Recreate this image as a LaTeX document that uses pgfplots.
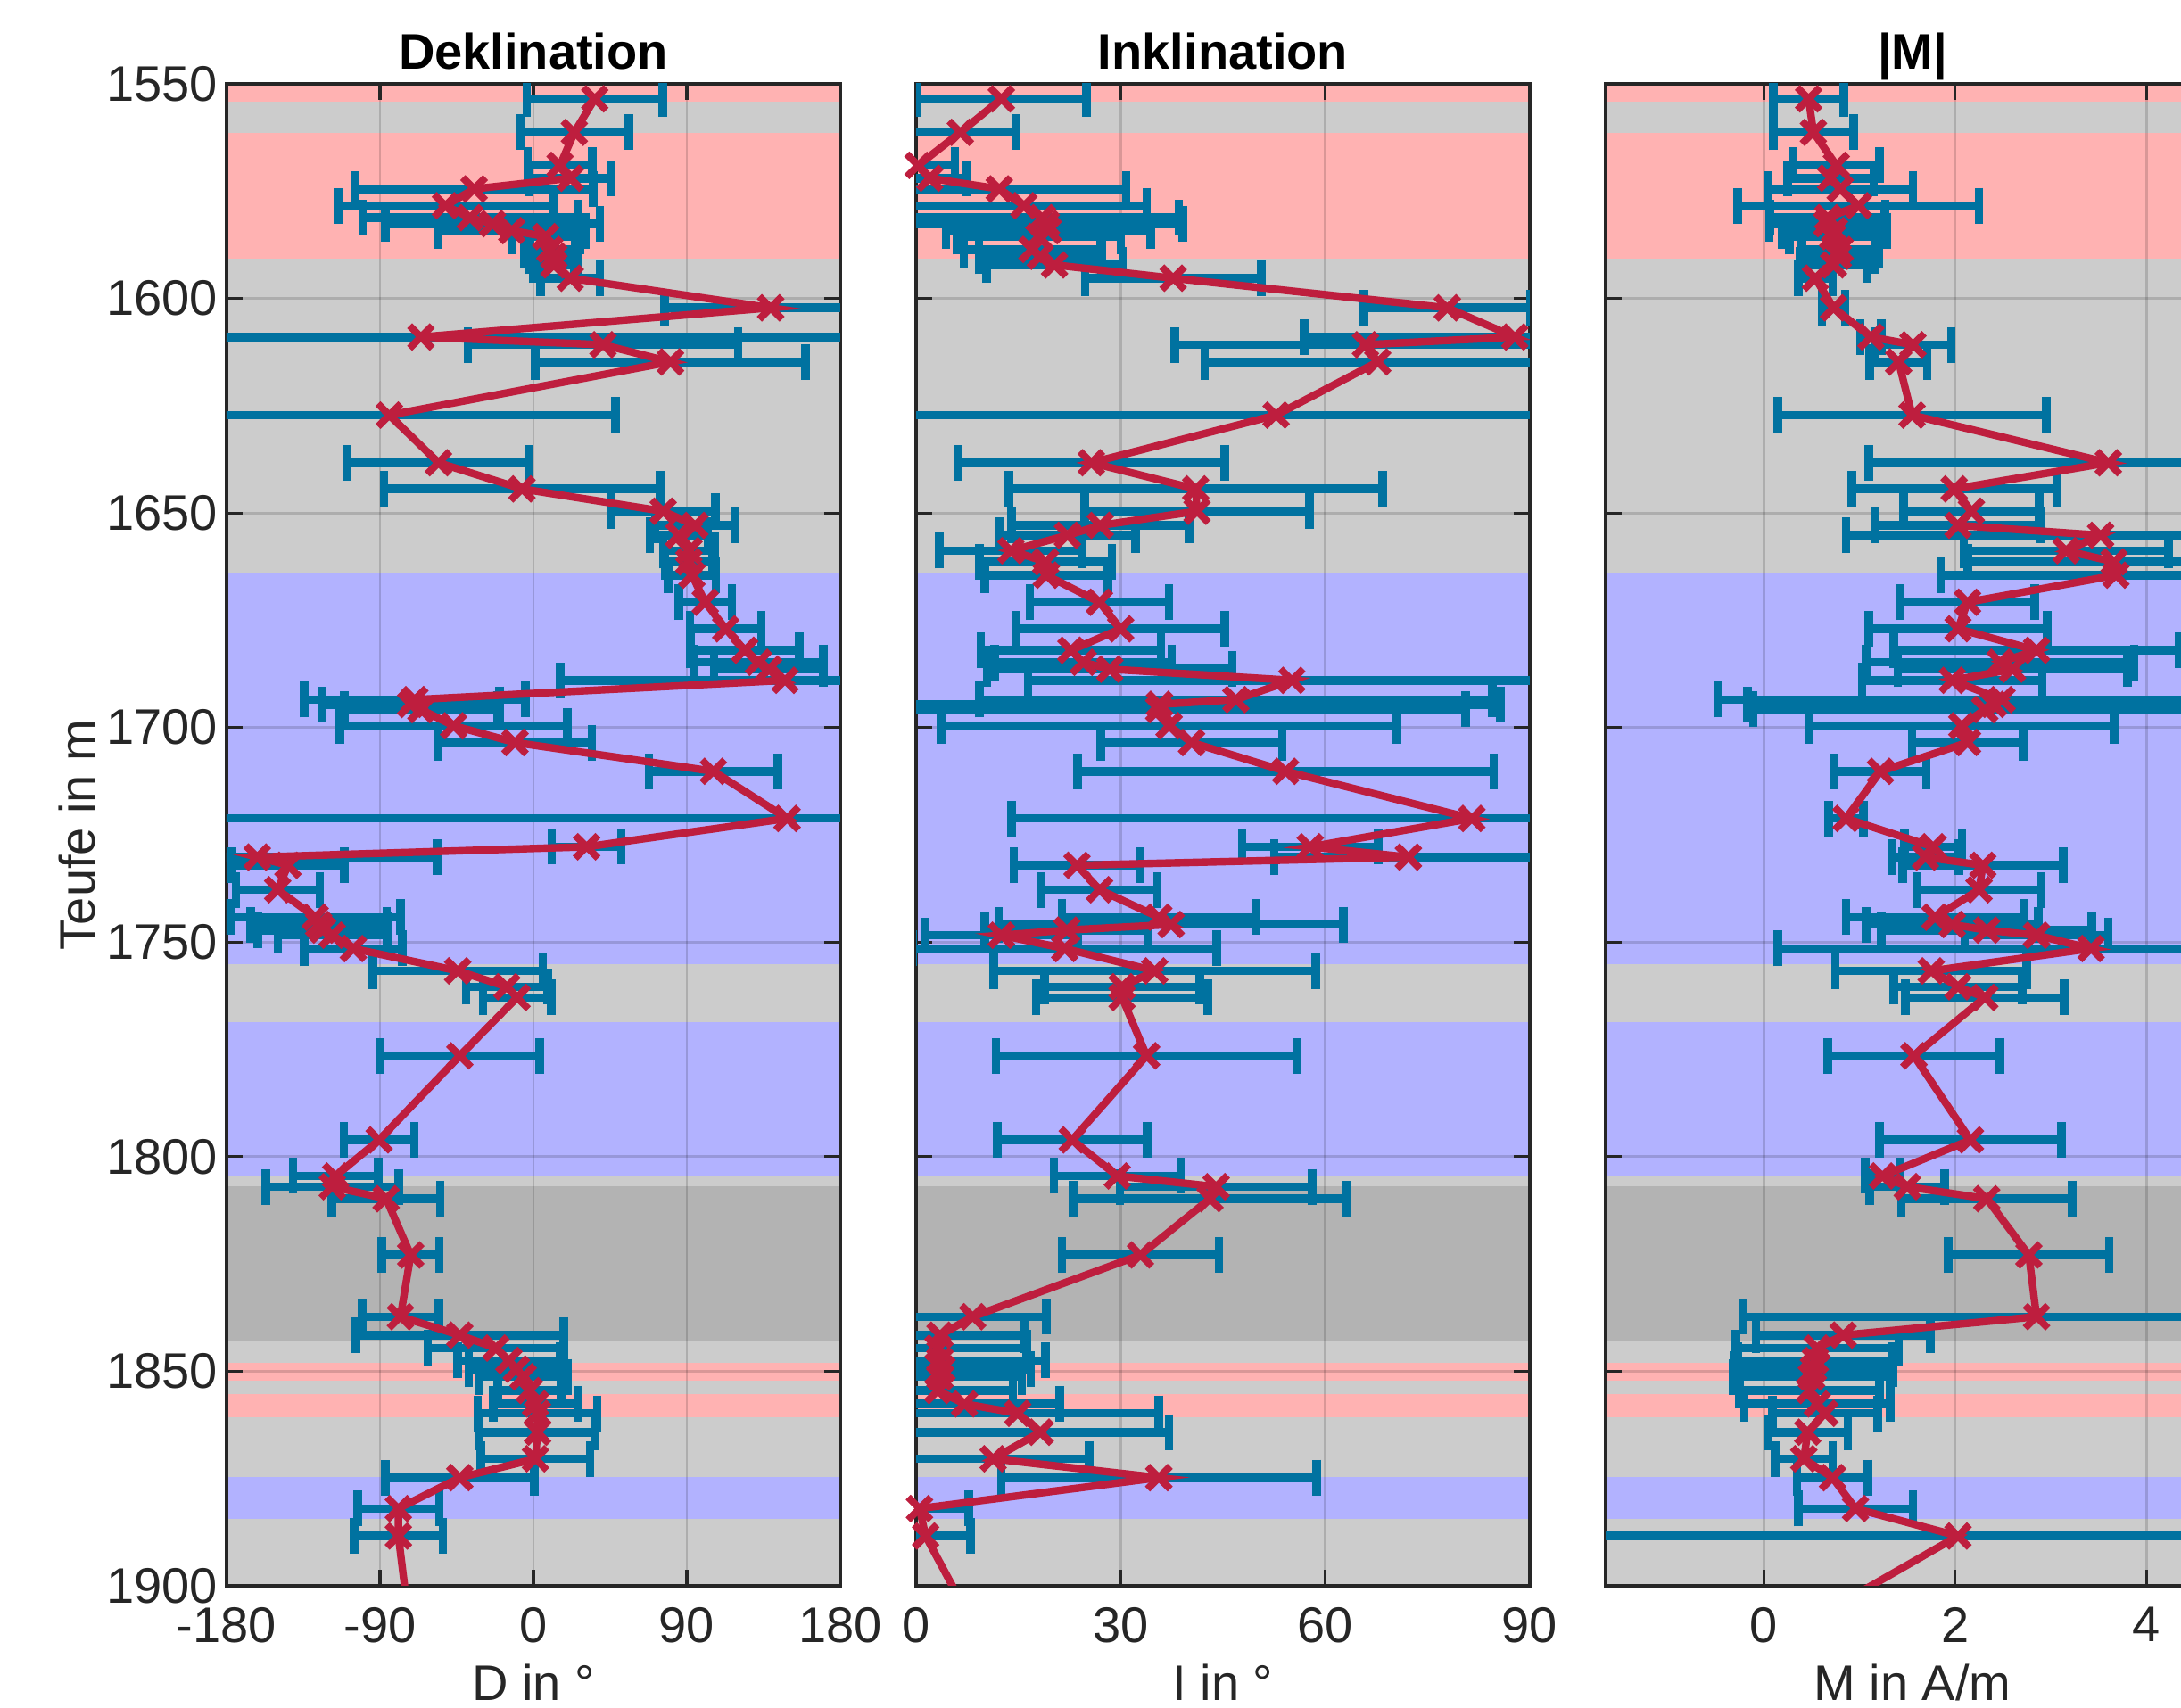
\documentclass[border=0pt]{standalone}
\usepackage{fontspec}
\setmainfont{Liberation Sans}
\usepackage{pgfplots}
\usepackage{pgfplotstable}
\pgfplotsset{compat=1.18}

\definecolor{bandred}{RGB}{255,178,178}
\definecolor{bandgray}{RGB}{204,204,204}
\definecolor{bandblue}{RGB}{178,178,255}
\definecolor{banddark}{RGB}{179,179,179}
\definecolor{linered}{RGB}{190,30,62}
\definecolor{errblue}{RGB}{0,114,160}
\definecolor{axgray}{RGB}{38,38,38}

\pgfplotstableread{
depth D dD I dI M dM
1553.5 36 40 12.5 12.5 0.47 0.37
1561.3 24 32 6.5 8.2 0.52 0.42
1569.0 15.6 19 0.3 5.4 0.76 0.45
1572.0 21.6 24 2.0 5.4 0.70 0.45
1574.5 -34.8 70 12.2 18.6 0.80 0.76
1578.4 -51.6 63 15.8 18 0.99 1.26
1581.2 -37.2 63 18.5 20 0.67 0.6
1582.6 -24 63 19.1 20 0.66 0.6
1584.2 -12.7 43 19.4 15 0.74 0.55
1585.6 7.2 20 18.0 12 0.72 0.45
1588.6 9.6 15 17.0 10 0.80 0.40
1590.2 12 14 18.2 9 0.78 0.38
1592.2 12 12 20.3 10 0.73 0.35
1595.3 21.6 17.4 37.7 12.9 0.54 0.18
1602.2 139.2 62.4 77.9 12.2 0.73 0.12
1609.0 -66 400 87.8 30.9 1.12 0.11
1610.8 40.8 79.2 65.9 28 1.56 0.40
1614.8 80.4 79.2 67.7 25.4 1.41 0.30
1627.2 -84.5 132.5 52.8 60 1.55 1.40
1638.3 -55.7 53.4 25.7 19.6 3.60 2.50
1644.4 -6.7 81 41.0 27.4 1.99 1.07
1649.6 76.1 30.6 41.2 16.5 2.17 0.71
1652.9 94.8 23.4 27.0 13 2.03 0.86
1655.2 85.2 17 22.2 10 3.52 2.66
1658.8 91.2 15 13.9 10.5 3.16 1.07
1661.4 91.2 14 19.0 9.7 3.66 1.53
1664.5 93 14 19.1 9 3.68 1.83
1670.8 100.8 15.6 26.9 10.2 2.13 0.70
1677.0 112.8 21 30.0 15.3 2.03 0.93
1682.0 124 32 22.7 13.2 2.85 1.49
1684.8 132 38 24.5 13 2.47 1.40
1686.4 138 32 28.4 18 2.60 1.20
1689.0 147.6 132 55.1 38.7 1.97 0.94
1693.5 -69.6 65 46.9 37.6 2.49 2.96
1694.6 -72 52 35.7 50 2.40 2.57
1695.8 -66 45 35.6 45 2.31 2.42
1699.6 -46.8 66.7 37.1 33.4 2.07 1.59
1703.5 -10.8 45 40.4 13.3 2.13 0.58
1710.2 105.6 37.8 54.2 30.5 1.22 0.48
1721.2 148.8 400 81.5 67.5 0.86 0.18
1727.8 31.2 20.4 57.8 10 1.77 0.30
1730.2 -162 105.6 72.2 19.7 1.69 0.35
1732.1 -144 33 23.6 9.3 2.29 0.84
1737.8 -150 24.6 26.9 8.5 2.25 0.65
1744.2 -128 50 35.6 14.2 1.79 0.93
1745.9 -126 40 37.4 25.3 1.97 0.90
1747.2 -123.6 38 22.1 12 2.33 1.10
1748.4 -118 32 12.5 11.2 2.85 0.75
1751.5 -105.6 28.8 21.8 22.3 3.42 3.27
1756.7 -44.4 49.8 35.0 23.6 1.75 1.00
1760.4 -15.6 24 30.2 11.4 2.03 0.67
1762.9 -9.6 20 30.2 12.6 2.31 0.83
1776.5 -43.2 46.8 33.8 22.1 1.57 0.90
1796.1 -90.5 20.6 22.9 11 2.16 0.95
1804.5 -116 25 29.5 9.3 1.24 0.18
1807.0 -118 39 44.0 14.1 1.50 0.39
1809.8 -86.4 31.8 43.1 20.1 2.33 0.89
1822.9 -72 16.8 32.9 11.5 2.77 0.84
1837.3 -78 22.6 8.3 10.8 2.85 3.06
1841.6 -43.2 61 3.5 12.3 0.83 0.91
1844.6 -22 40 3.2 13 0.56 0.85
1847.5 -14.4 30 3.5 15.5 0.54 0.81
1849.5 -10 28 3.8 13 0.52 0.83
1851.3 -6 26 3.5 12 0.50 0.82
1854.5 -2.4 18.6 3.2 11 0.48 0.73
1857.6 1.2 24.6 7.1 14 0.56 0.76
1859.8 2.4 35 14.9 20.7 0.64 0.55
1864.2 2.4 34 18.2 18.9 0.46 0.42
1870.4 1.2 32 11.3 14.1 0.42 0.30
1874.8 -43.2 43.8 35.6 23.1 0.72 0.37
1882.0 -79.2 24 0.5 7.2 0.96 0.60
1888.4 -79.2 26 1.4 6.6 2.03 10
1910.0 -72.5 25 8.7 8 0.34 0.4
}\datatab

\newcommand{\band}[5]{\addplot[draw=none, fill=#1, forget plot, on layer=axis background] coordinates {(#4,#2) (#5,#2) (#5,#3) (#4,#3)} -- cycle;}
\newcommand{\bands}[2]{%
\band{bandred}{1550}{1554.2}{#1}{#2}
\band{bandgray}{1554.2}{1561.4}{#1}{#2}
\band{bandred}{1561.4}{1590.7}{#1}{#2}
\band{bandgray}{1590.7}{1664}{#1}{#2}
\band{bandblue}{1664}{1755.2}{#1}{#2}
\band{bandgray}{1755.2}{1768.6}{#1}{#2}
\band{bandblue}{1768.6}{1804.4}{#1}{#2}
\band{bandgray}{1804.4}{1806.8}{#1}{#2}
\band{banddark}{1806.8}{1842.8}{#1}{#2}
\band{bandgray}{1842.8}{1848.1}{#1}{#2}
\band{bandred}{1848.1}{1852.1}{#1}{#2}
\band{bandgray}{1852.1}{1855.3}{#1}{#2}
\band{bandred}{1855.3}{1860.7}{#1}{#2}
\band{bandgray}{1860.7}{1874.7}{#1}{#2}
\band{bandblue}{1874.7}{1884.4}{#1}{#2}
\band{bandgray}{1884.4}{1900}{#1}{#2}
}

\pgfplotsset{
  panel/.style={
    set layers=standard, clip mode=individual,
    scale only axis, width=172pt, height=421pt,
    y dir=reverse, ymin=1550, ymax=1900,
    ytick={1550,1600,...,1900},
    grid=major, grid style={black, opacity=0.15, line width=0.7pt},
    tick align=inside, major tick length=4.5pt,
    tick style={axgray, line width=0.8pt},
    axis line style={axgray, line width=0.8pt},
    tick label style={font=\fontsize{14}{16}\selectfont, text=axgray},
    label style={font=\fontsize{14}{16}\selectfont, text=axgray},
    title style={font=\bfseries\fontsize{14}{16}\selectfont, at={(axis description cs:0.5,1)}, anchor=base, yshift=-1.8pt},
    xlabel style={at={(axis description cs:0.5,0)}, anchor=center, yshift=-27pt},
    yticklabel style={xshift=1pt},
    xticklabel style={yshift=-2.5pt},
    /pgf/number format/assume math mode=true,
    /pgf/number format/1000 sep={},
  },
  ebar/.style={draw=none, mark=none, forget plot,
    error bars/.cd, x dir=both, x explicit,
    error bar style={draw=errblue, line width=2.4pt},
    error mark options={rotate=90, draw=errblue, line width=2.4pt, mark size=5pt}},
  dline/.style={linered, line width=2.1pt, mark=x, mark size=4.5pt, mark options={solid, line width=2pt}},
}

\begin{document}
\begin{tikzpicture}
\begin{axis}[panel, title={Deklination}, xmin=-180, xmax=180, xtick={-180,-90,0,90,180},
  xlabel={D in °}, ylabel={Teufe in m},
  ylabel style={at={(axis description cs:-0.244,0.5)}, anchor=center}]
\bands{-180}{180}
\addplot[ebar] table[x=D, y=depth, x error=dD]{\datatab};
\addplot[dline] table[x=D, y=depth]{\datatab};
\end{axis}
\begin{axis}[panel, at={(193.25pt,0)}, title={Inklination}, xmin=0, xmax=90, xtick={0,30,60,90},
  xlabel={I in °}, yticklabels={}]
\bands{0}{90}
\addplot[ebar] table[x=I, y=depth, x error=dI]{\datatab};
\addplot[dline] table[x=I, y=depth]{\datatab};
\end{axis}
\begin{axis}[panel, at={(386.5pt,0)}, title={|M|}, xmin=-1.65, xmax=4.76, xtick={0,2,4},
  xlabel={M in A/m}, yticklabels={}]
\bands{-1.65}{4.76}
\addplot[ebar] table[x=M, y=depth, x error=dM]{\datatab};
\addplot[dline] table[x=M, y=depth]{\datatab};
\end{axis}
\pgfresetboundingbox
\path[use as bounding box] (-63.5pt,-34.25pt) rectangle (547.75pt,444.5pt);
\end{tikzpicture}
\end{document}
